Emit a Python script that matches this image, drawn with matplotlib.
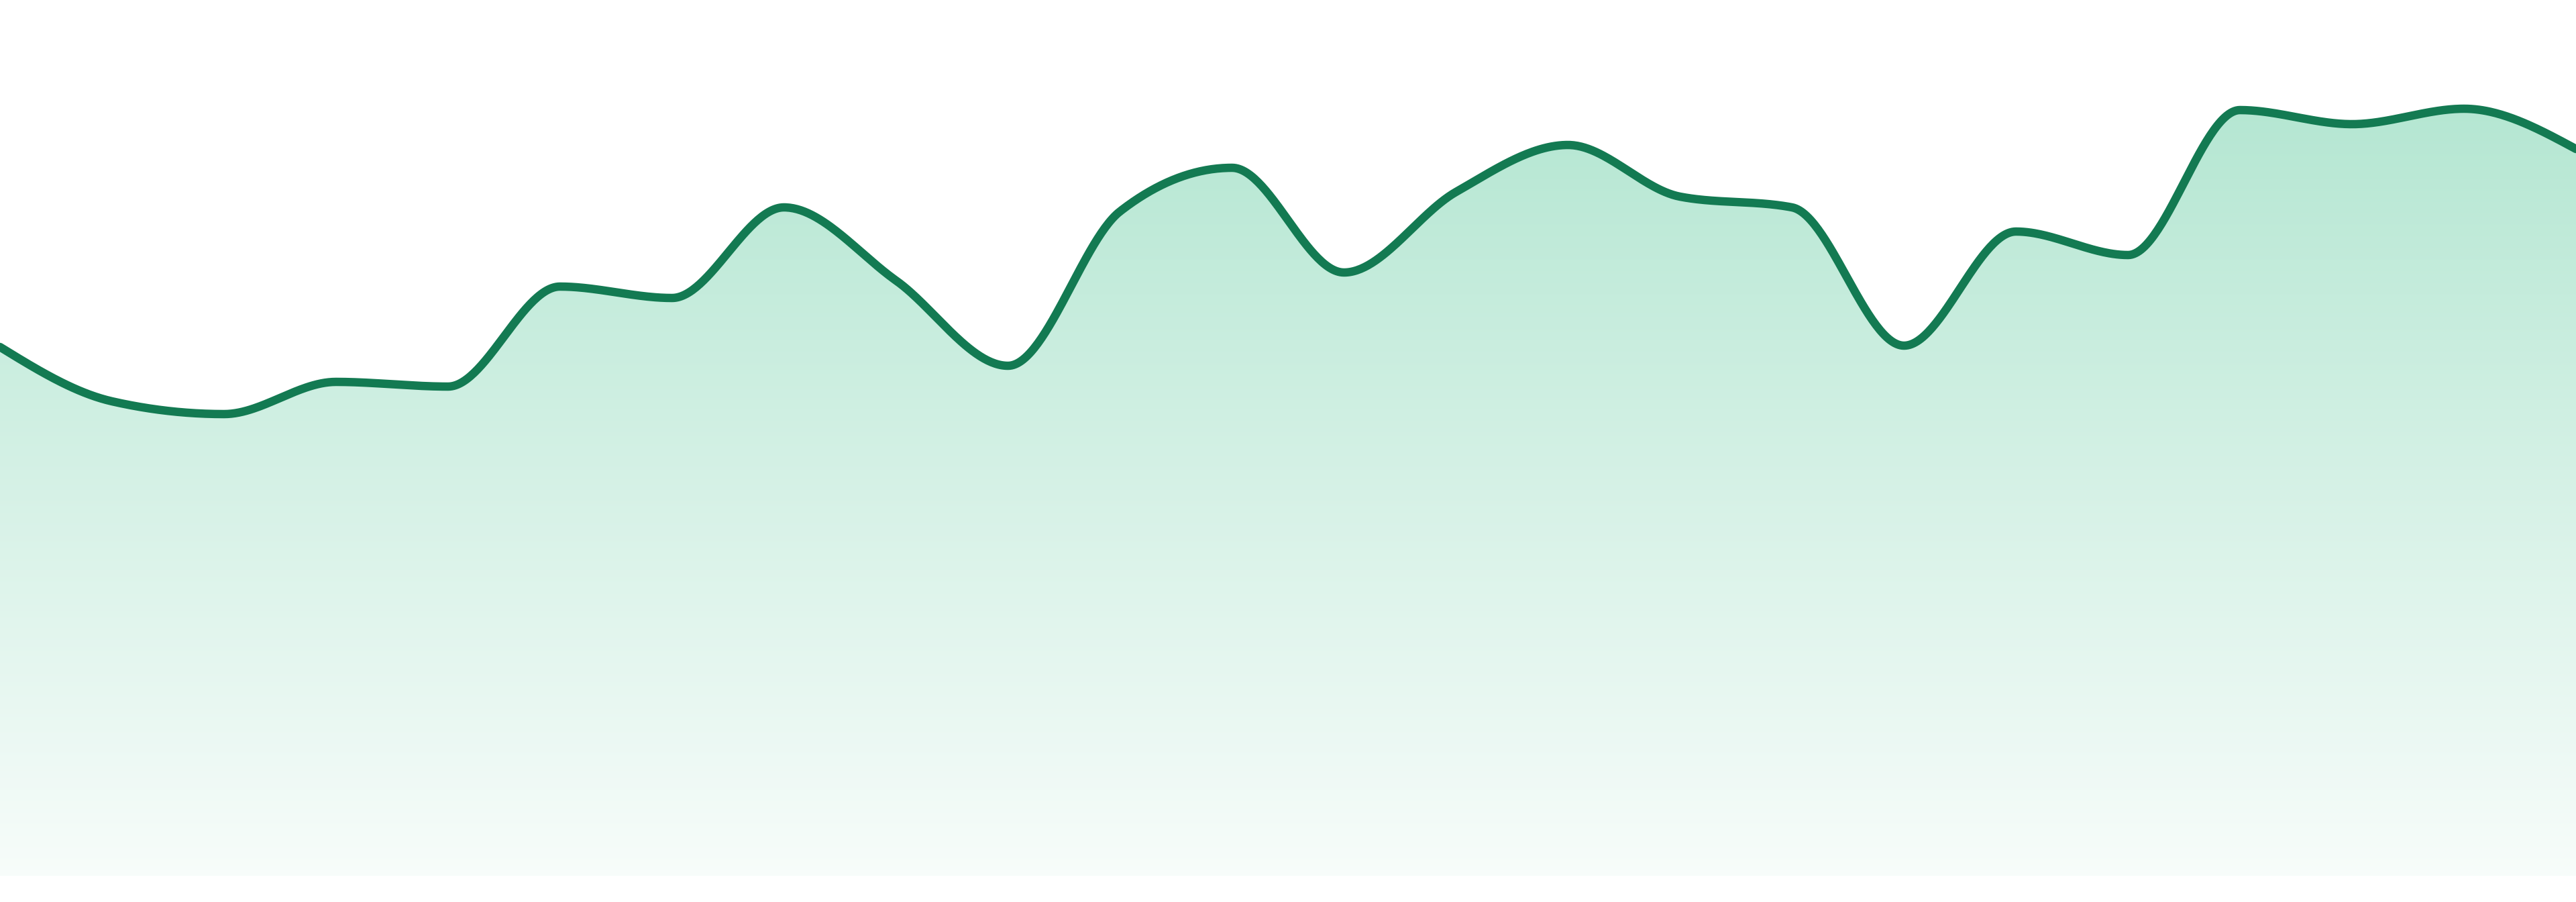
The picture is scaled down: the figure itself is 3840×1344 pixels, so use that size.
import numpy as np
import matplotlib
matplotlib.use('Agg')
import matplotlib.pyplot as plt
from matplotlib.patches import Polygon

# values (one point per step)
steps = list(range(24))
values = [78.8, 70.7, 68.8, 73.6, 72.9, 87.8, 86.1, 99.6, 88.7, 76.0, 99.0, 105.5,
          89.9, 101.9, 108.9, 101.2, 99.6, 79.0, 96.0, 92.5, 114.1, 112.0, 114.3, 108.3]

line_color = '#137a52'
fill_top = (0.71, 0.905, 0.825)
fill_bottom = (0.97, 0.99, 0.982)


def sgn(v):
    return -1.0 if v < 0 else 1.0


# monotone cubic curve, like d3 curveMonotoneX
def monotone(x, y, n=60):
    x = np.asarray(x, float)
    y = np.asarray(y, float)
    h = np.diff(x)
    s = np.diff(y) / h
    t = np.zeros(len(y))
    for i in range(1, len(y) - 1):
        p = (s[i-1] * h[i] + s[i] * h[i-1]) / (h[i-1] + h[i])
        t[i] = (sgn(s[i-1]) + sgn(s[i])) * min(abs(s[i-1]), abs(s[i]), 0.5 * abs(p))
    t[0] = (3 * s[0] - t[1]) / 2
    t[-1] = (3 * s[-1] - t[-2]) / 2
    xs, ys = [], []
    for i in range(len(y) - 1):
        u = np.linspace(0, 1, n, endpoint=False)
        h00 = 2*u**3 - 3*u**2 + 1
        h10 = u**3 - 2*u**2 + u
        h01 = -2*u**3 + 3*u**2
        h11 = u**3 - u**2
        xs.append(x[i] + u * h[i])
        ys.append(h00*y[i] + h10*h[i]*t[i] + h01*y[i+1] + h11*h[i]*t[i+1])
    xs.append([x[-1]])
    ys.append([y[-1]])
    return np.concatenate(xs), np.concatenate(ys)


cx, cy = monotone(steps, values)

fig = plt.figure(figsize=(38.4, 13.44), dpi=100)
ax = fig.add_axes([0, 0, 1, 1])
ax.axis('off')

# gradient fill under the curve
top = cy.max()
grad = np.linspace(0, 1, 256)[:, None]
rgb = np.array(fill_top)[None, :] * (1 - grad) + np.array(fill_bottom)[None, :] * grad
img = ax.imshow(rgb[:, None, :], extent=[0, 23, 0, top], aspect='auto',
                origin='upper', interpolation='bilinear', zorder=1)
poly = Polygon(np.column_stack([np.r_[cx, cx[-1], cx[0]], np.r_[cy, 0, 0]]),
               closed=True, facecolor='none', edgecolor='none')
ax.add_patch(poly)
img.set_clip_path(poly)

ax.plot(cx, cy, color=line_color, linewidth=9, solid_capstyle='round', zorder=3)

# limits after imshow, which resets them
ax.set_xlim(0, 23)
ax.set_ylim(-3.9, 130.5)

fig.savefig('out.png', dpi=100, facecolor='white')
